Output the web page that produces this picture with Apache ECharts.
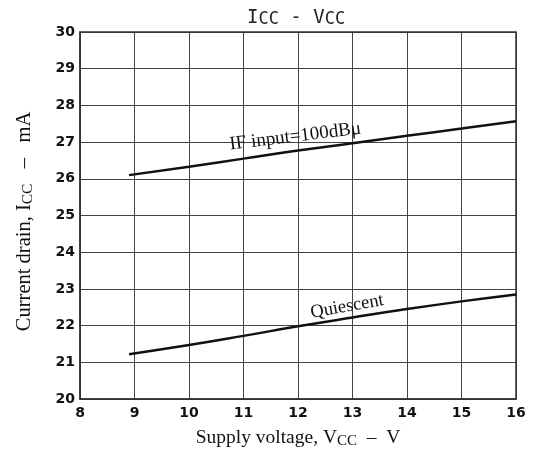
<!DOCTYPE html>
<html><head><meta charset="utf-8">
<script src="https://cdn.jsdelivr.net/npm/echarts@6/dist/echarts.min.js"></script>
<style>html,body{margin:0;padding:0;background:#fff}#c{width:549px;height:454px}</style>
</head><body><div id="c"></div>
<script>
var vcc = [8.9, 10, 11, 12, 13, 14, 15, 16];
var iccIF = [26.1, 26.33, 26.55, 26.77, 26.97, 27.17, 27.37, 27.57];
var iccQ = [21.22, 21.47, 21.72, 21.98, 22.22, 22.45, 22.66, 22.85];
var xTicks = [8, 9, 10, 11, 12, 13, 14, 15, 16];
var yTicks = [20, 21, 22, 23, 24, 25, 26, 27, 28, 29, 30];
var labelIF = {text: 'IF input=100dBμ', x: 11.95, y: 27.15, rot: 7, size: 19};
var labelQ = {text: 'Quiescent', x: 12.9, y: 22.52, rot: 10, size: 18.5};

function pairs(xs, ys){ return xs.map(function(x,i){ return [x, ys[i]]; }); }
var chart = echarts.init(document.getElementById('c'), null, {renderer:'canvas'});
var tickFont = {fontFamily:'DejaVu Sans', fontSize:14, fontWeight:'bold', color:'#111'};
var serif = 'Liberation Serif';
chart.setOption({
  animation:false,
  backgroundColor:'#fff',
  title:{
    text:'{a|I}{s|CC}{a| - V}{s|CC}',
    left: 242, top: 3,
    textStyle:{fontWeight:'normal', rich:{
      a:{fontFamily:'DejaVu Sans Mono', fontSize:19, fontWeight:'normal', color:'#222'},
      s:{fontFamily:'DejaVu Sans Mono', fontSize:17, fontWeight:'normal', color:'#222', padding:[3,0,0,0]}
    }}
  },
  grid:{left:80, right:33, top:32, bottom:48},
  xAxis:{
    type:'value', min:xTicks[0], max:xTicks[xTicks.length-1], interval:1,
    axisLine:{show:true, lineStyle:{color:'#333', width:1.5}},
    axisTick:{show:false},
    splitLine:{show:true, lineStyle:{color:'#444', width:1}},
    axisLabel:Object.assign({margin:7}, tickFont),
    name:'{t|Supply voltage, V}{s|CC}{t|  –  V}',
    nameLocation:'middle', nameGap:28,
    nameTextStyle:{rich:{
      t:{fontFamily:serif, fontSize:19.5, color:'#111'},
      s:{fontFamily:serif, fontSize:15, color:'#111', padding:[7,0,0,0]}
    }}
  },
  yAxis:{
    type:'value', min:yTicks[0], max:yTicks[yTicks.length-1], interval:1,
    axisLine:{show:true, lineStyle:{color:'#333', width:1.5}},
    axisTick:{show:false},
    splitLine:{show:true, lineStyle:{color:'#444', width:1}},
    axisLabel:Object.assign({margin:5}, tickFont),
    name:'{t|Current drain, I}{s|CC}{t|   –   mA}',
    nameLocation:'middle', nameGap:44, nameRotate:90,
    nameTextStyle:{padding:[0,12,0,0], rich:{
      t:{fontFamily:serif, fontSize:20.5, color:'#111'},
      s:{fontFamily:serif, fontSize:15.5, color:'#111', padding:[7,0,0,0]}
    }}
  },
  series:[
    {type:'line', data:pairs(vcc, iccIF), symbol:'none', smooth:true, lineStyle:{color:'#111', width:2.5}},
    {type:'line', data:pairs(vcc, iccQ), symbol:'none', smooth:true, lineStyle:{color:'#111', width:2.5}}
  ]
});
var tl = chart.convertToPixel({gridIndex:0}, [xTicks[0], yTicks[yTicks.length-1]]);
var br = chart.convertToPixel({gridIndex:0}, [xTicks[xTicks.length-1], yTicks[0]]);
function lbl(L){
  var p = chart.convertToPixel({gridIndex:0}, [L.x, L.y]);
  return {type:'text', x:p[0], y:p[1], rotation:L.rot*Math.PI/180, originX:0, originY:0,
    style:{text:L.text, fontFamily:serif, fontSize:L.size, fill:'#111', align:'center', verticalAlign:'middle'}};
}
chart.setOption({graphic:[
  {type:'rect', shape:{x:tl[0], y:tl[1], width:br[0]-tl[0], height:br[1]-tl[1]}, style:{fill:'none', stroke:'#333', lineWidth:1.5}, silent:true},
  lbl(labelIF), lbl(labelQ)
]});
</script></body></html>
